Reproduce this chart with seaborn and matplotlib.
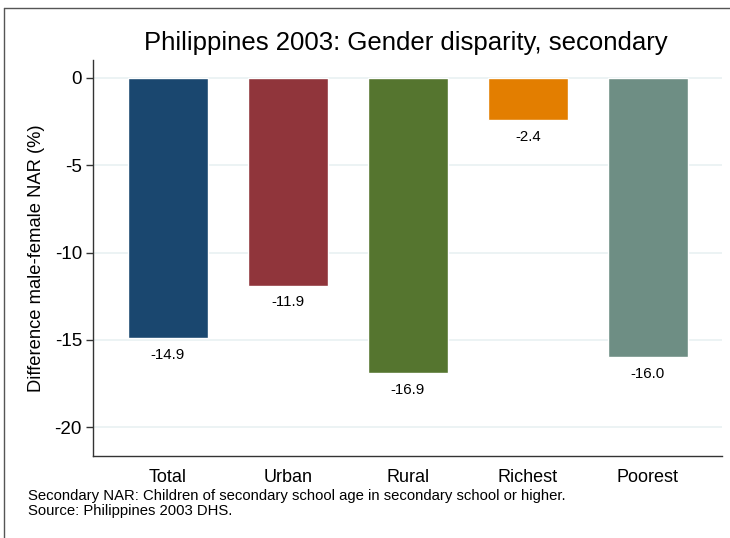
import matplotlib
matplotlib.use("Agg")
import matplotlib.pyplot as plt
import seaborn as sns
import pandas as pd
from matplotlib.lines import Line2D

categories = ["Total", "Urban", "Rural", "Richest", "Poorest"]
values = [-14.9, -11.9, -16.9, -2.4, -16.0]
colors = ["#1a476f", "#90353b", "#55752f", "#e37e00", "#6e8e84"]
yticks = [0, -5, -10, -15, -20]
title = "Philippines 2003: Gender disparity, secondary"
ylabel = "Difference male-female NAR (%)"
notes = ["Secondary NAR: Children of secondary school age in secondary school or higher.",
         "Source: Philippines 2003 DHS."]

sns.set_style("white")
plt.rcParams['font.family'] = ['Liberation Sans', 'DejaVu Sans']
plt.rcParams['text.color'] = 'black'
plt.rcParams['axes.labelcolor'] = 'black'
plt.rcParams['xtick.color'] = 'black'
plt.rcParams['ytick.color'] = 'black'

df = pd.DataFrame({"cat": categories, "val": values})

W, H = 730, 538
fig = plt.figure(figsize=(W / 100, H / 100), dpi=100)
ax = fig.add_axes([93 / W, 1 - 456 / H, (722 - 93) / W, (456 - 60) / H])

sns.barplot(data=df, x="cat", y="val", hue="cat", palette=colors, order=categories,
            hue_order=categories, width=0.667, saturation=1, legend=False, ax=ax, zorder=3)

ax.set_xlim(-0.625, 4.617)
ax.set_ylim(-21.65, 1.03)
ax.set_yticks(yticks)
ax.set_yticklabels([str(v) for v in yticks])
ax.yaxis.grid(True, color="#eaf2f3", linewidth=1.3, zorder=0)
ax.set_axisbelow(True)
for s in ["top", "right"]:
    ax.spines[s].set_visible(False)
for s in ["left", "bottom"]:
    ax.spines[s].set_color("#333333")
    ax.spines[s].set_linewidth(1.0)
ax.tick_params(axis="y", length=5, width=1, color="#333333", labelsize=13.5, pad=3,
               left=True, labelcolor="black")
ax.tick_params(axis="x", length=0, labelsize=13, pad=9, labelcolor="black")
ax.set_xlabel("")
ax.set_ylabel(ylabel, fontsize=13.2, labelpad=7, color="black")

for i, v in enumerate(values):
    ax.annotate(f"{v:.1f}", xy=(i, v), xytext=(0, -7), textcoords="offset points",
                ha="center", va="top", fontsize=10.8, color="black")

fig.text(406 / W, 1 - 43 / H, title, ha="center", va="center", fontsize=18.5, color="black")
fig.text(28 / W, 1 - 496 / H, notes[0], ha="left", va="center", fontsize=10.7, color="black")
fig.text(28 / W, 1 - 511 / H, notes[1], ha="left", va="center", fontsize=10.7, color="black")

# outer frame
fig.add_artist(Line2D([4 / W, 4 / W], [0, 1 - 8 / H], transform=fig.transFigure, color="#555555", lw=1))
fig.add_artist(Line2D([4 / W, 1], [1 - 8 / H, 1 - 8 / H], transform=fig.transFigure, color="#555555", lw=1))

fig.savefig("out.png", dpi=100)
